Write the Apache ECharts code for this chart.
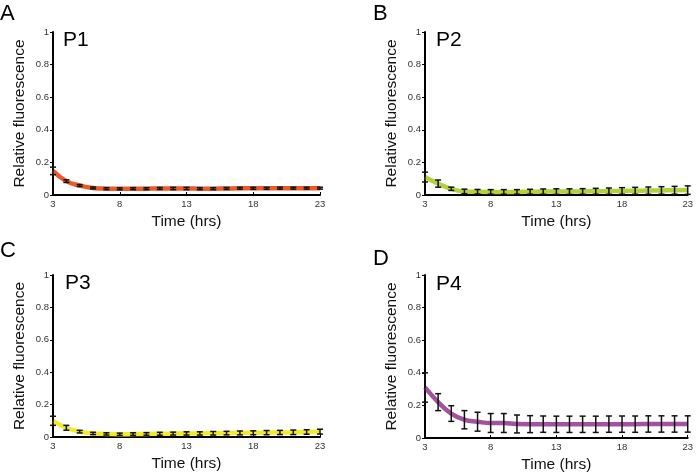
<!DOCTYPE html>
<html>
<head>
<meta charset="utf-8">
<script src="https://cdn.jsdelivr.net/npm/echarts@6/dist/echarts.min.js"></script>
<style>html,body{margin:0;padding:0;background:#fff}#c{width:696px;height:474px}</style>
</head>
<body>
<div id="c"></div>
<script>
const hours = ['3','4','5','6','7','8','9','10','11','12','13','14','15','16','17','18','19','20','21','22','23'];
const yTicks = [0, 0.2, 0.4, 0.6, 0.8, 1];
const panelLetters = ['A', 'B', 'C', 'D'];
const panelNames = ['P1', 'P2', 'P3', 'P4'];

const p1Mean = [0.148,0.085,0.058,0.043,0.039,0.038,0.039,0.039,0.040,0.040,0.040,0.039,0.039,0.040,0.041,0.041,0.041,0.042,0.042,0.042,0.042];
const p1Err  = [0.023,0.008,0.006,0.006,0.006,0.006,0.006,0.006,0.006,0.007,0.007,0.006,0.006,0.006,0.006,0.006,0.006,0.006,0.006,0.006,0.006];

const p2Mean = [0.110,0.070,0.038,0.022,0.020,0.019,0.019,0.019,0.020,0.021,0.021,0.021,0.022,0.023,0.024,0.025,0.026,0.027,0.028,0.029,0.030];
const p2Err  = [0.030,0.022,0.010,0.014,0.014,0.014,0.014,0.014,0.015,0.016,0.017,0.017,0.017,0.018,0.019,0.020,0.021,0.022,0.023,0.024,0.026];

const p3Mean = [0.100,0.057,0.033,0.022,0.019,0.017,0.018,0.019,0.020,0.021,0.022,0.022,0.023,0.024,0.025,0.026,0.027,0.028,0.029,0.031,0.033];
const p3Err  = [0.028,0.015,0.008,0.007,0.007,0.007,0.008,0.008,0.009,0.009,0.010,0.010,0.011,0.011,0.012,0.012,0.013,0.013,0.014,0.014,0.015];

const p4Mean = [0.310,0.220,0.150,0.112,0.100,0.092,0.092,0.086,0.085,0.085,0.084,0.084,0.084,0.084,0.085,0.085,0.085,0.086,0.086,0.086,0.086];
const p4Err  = [0.090,0.052,0.048,0.056,0.058,0.058,0.058,0.055,0.052,0.050,0.050,0.050,0.050,0.050,0.050,0.050,0.050,0.050,0.050,0.050,0.050];

const means = [p1Mean, p2Mean, p3Mean, p4Mean];
const errs = [p1Err, p2Err, p3Err, p4Err];
const colors = ['#EC5A2A', '#B3D23A', '#F2EA2C', '#A3529F'];

const grids = [
  {left: 53, top: 32, width: 267, height: 163},
  {left: 425, top: 32, width: 266, height: 163},
  {left: 53, top: 275, width: 267, height: 162},
  {left: 425, top: 275, width: 266, height: 163}
];
const letterPos = [[0, 3], [373, 3], [0, 240], [373, 248]];
const namePos = [[63, 30], [436, 30], [65, 273], [436, 274]];

const chart = echarts.init(document.getElementById('c'));
const xAxes = [], yAxes = [], series = [], titles = [];
const font = 'Liberation Sans, Arial, sans-serif';

for (let i = 0; i < 4; i++) {
  xAxes.push({
    type: 'category', gridIndex: i, data: hours, boundaryGap: false,
    name: 'Time (hrs)', nameLocation: 'middle', nameGap: 19,
    nameTextStyle: {fontSize: 15.5, color: '#111', fontFamily: font},
    axisLine: {lineStyle: {color: '#000', width: 2}},
    axisTick: {show: true, inside: true, length: 3, interval: 4, lineStyle: {color: '#000'}},
    axisLabel: {interval: 4, fontSize: 9.5, color: '#333', margin: 4, fontFamily: font},
    splitLine: {show: false}
  });
  yAxes.push({
    type: 'value', gridIndex: i, min: 0, max: 1, interval: 0.2,
    name: 'Relative fluorescence', nameLocation: 'middle', nameGap: 25,
    nameTextStyle: {fontSize: 15.5, color: '#111', fontFamily: font},
    axisLine: {show: true, lineStyle: {color: '#000', width: 2}},
    axisTick: {show: true, length: 3, lineStyle: {color: '#000'}},
    axisLabel: {fontSize: 9.5, color: '#333', margin: 4, fontFamily: font,
      formatter: v => String(Math.round(v * 10) / 10)},
    splitLine: {show: false}
  });
  series.push({
    type: 'line', xAxisIndex: i, yAxisIndex: i, data: means[i],
    smooth: 0.5, symbol: 'none', z: 2,
    lineStyle: {color: colors[i], width: 4.5}
  });
  const m = means[i], e = errs[i];
  const ebData = m.map((v, k) => [k, v - e[k], v + e[k]]);
  series.push({
    type: 'custom', xAxisIndex: i, yAxisIndex: i, data: ebData, z: 3,
    encode: {x: 0, y: [1, 2]},
    renderItem: function (params, api) {
      const x = api.value(0);
      const lo = api.coord([x, api.value(1)]);
      const hi = api.coord([x, api.value(2)]);
      const w = 3;
      const st = {stroke: '#111', lineWidth: 1.5};
      return {type: 'group', children: [
        {type: 'line', shape: {x1: lo[0], y1: lo[1], x2: hi[0], y2: hi[1]}, style: st},
        {type: 'line', shape: {x1: lo[0]-w, y1: lo[1], x2: lo[0]+w, y2: lo[1]}, style: st},
        {type: 'line', shape: {x1: hi[0]-w, y1: hi[1], x2: hi[0]+w, y2: hi[1]}, style: st}
      ]};
    }
  });
  titles.push({text: panelLetters[i], left: letterPos[i][0], top: letterPos[i][1], padding: 0,
    textStyle: {fontSize: 22, fontWeight: 'normal', color: '#000', fontFamily: font}});
  titles.push({text: panelNames[i], left: namePos[i][0], top: namePos[i][1], padding: 0,
    textStyle: {fontSize: 21, fontWeight: 'normal', color: '#000', fontFamily: font}});
}

chart.setOption({
  animation: false,
  backgroundColor: '#fff',
  title: titles,
  grid: grids,
  xAxis: xAxes,
  yAxis: yAxes,
  series: series
});
</script>
</body>
</html>
